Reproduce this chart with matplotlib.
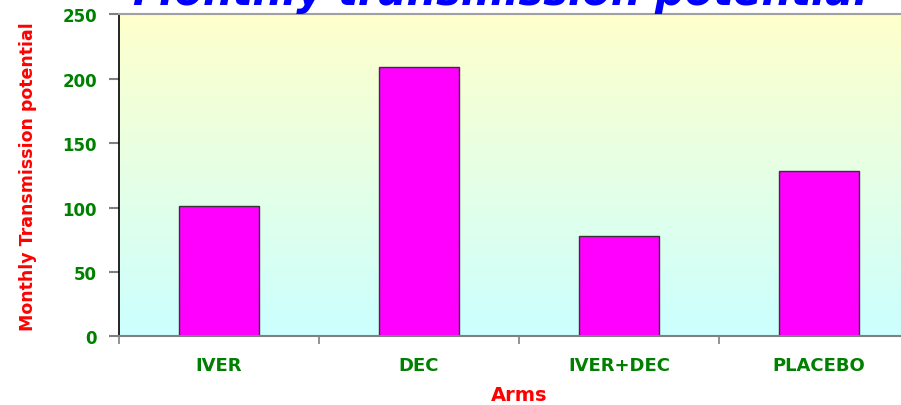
import numpy as np
import matplotlib.pyplot as plt
from matplotlib.colors import LinearSegmentedColormap

# data
arms = ['IVER', 'DEC', 'IVER+DEC', 'PLACEBO']
potential = [101, 209, 78, 128.5]
yticks = [0, 50, 100, 150, 200, 250]

green = '#008000'
W, H = 901, 406
fig = plt.figure(figsize=(W / 100, H / 100), dpi=100)
fig.patch.set_facecolor('white')

# axes box in pixels: x 119..919 (runs past right edge), y 15..337
ax = fig.add_axes([119 / W, 1 - 337.3 / H, 800 / W, 322 / H])

# gradient background, yellow at top to cyan at bottom
cmap = LinearSegmentedColormap.from_list('bg', ['#CCFFFF', '#FFFFCC'])
grad = np.linspace(0, 1, 256).reshape(-1, 1)
ax.imshow(grad, cmap=cmap, origin='lower', aspect='auto',
          extent=[0, 1, 0, 1], transform=ax.transAxes, zorder=0)

x = np.arange(len(arms))
ax.bar(x, potential, width=0.4, color='#FF00FF', edgecolor='#333333',
       linewidth=1, zorder=2)

ax.set_xlim(-0.5, 3.5)
ax.set_ylim(0, 250)

# major ticks between categories, labels on minor ticks at the centres
ax.set_xticks(np.arange(-0.5, 3.0, 1.0))
ax.set_xticklabels([])
ax.set_xticks(x, minor=True)
ax.set_xticklabels(arms, minor=True, color=green, fontweight='bold',
                   fontsize=13, family='DejaVu Sans')
ax.tick_params(axis='x', which='major', direction='out', length=6,
               color='#808080', width=1.2)
ax.tick_params(axis='x', which='minor', length=0, pad=14)

ax.set_yticks(yticks)
ax.set_yticklabels([str(t) for t in yticks], color=green, fontweight='bold',
                   fontsize=12, family='DejaVu Sans')
ax.tick_params(axis='y', direction='out', length=7, color='#808080',
               width=1.5, pad=9)

ax.spines['left'].set_color('black')
ax.spines['left'].set_linewidth(1.2)
ax.spines['bottom'].set_color('#808080')
ax.spines['bottom'].set_linewidth(1.5)
ax.spines['top'].set_color('#A0A0A0')
ax.spines['top'].set_linewidth(1.5)
ax.spines['right'].set_visible(False)

ax.set_xlabel('Arms', color='red', fontweight='bold', fontsize=14,
              family='DejaVu Sans', va='baseline')
ax.xaxis.set_label_coords(0.5, -(401 - 337.3) / 322)

ax.set_ylabel('Monthly Transmission potential', color='red',
              fontweight='bold', fontsize=12.5, family='DejaVu Sans',
              va='center')
ax.yaxis.set_label_coords((28 - 119) / 800, 0.5)

# title sits mostly above the top edge of the picture
fig.text(500 / W, 1 - 5 / H, 'Monthly transmission potential', color='#0000FF',
         fontsize=30, fontweight='bold', fontstyle='italic',
         family='DejaVu Sans', ha='center', va='baseline')

fig.savefig('out.png', dpi=100)
